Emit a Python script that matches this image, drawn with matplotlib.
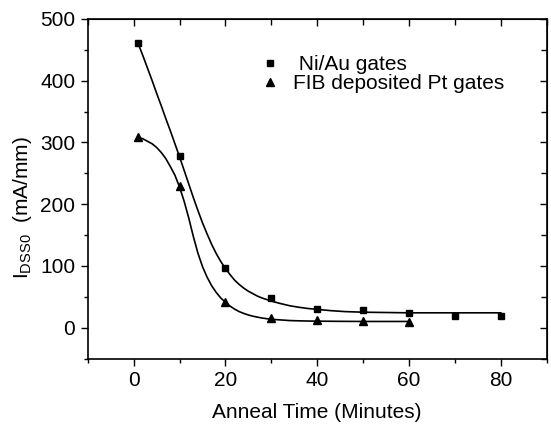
import matplotlib
matplotlib.use("Agg")
import matplotlib.pyplot as plt
from matplotlib.ticker import MultipleLocator

plt.rcParams['font.family'] = ['Liberation Sans', 'DejaVu Sans']
plt.rcParams['mathtext.fontset'] = 'custom'
plt.rcParams['mathtext.rm'] = 'Liberation Sans'

# Measured data
niau_x = [1, 10, 20, 30, 40, 50, 60, 70, 80]
niau_y = [461, 278, 96, 48, 30, 29, 23, 19, 19]
pt_x = [1, 10, 20, 30, 40, 50, 60]
pt_y = [309, 230, 41, 16, 12, 11, 9]

# Fitted curves
niau_fit_x = [1, 2, 3, 4, 5, 6, 7, 8, 9, 10, 11, 12, 13, 14, 15, 16, 17, 18, 19, 20,
              21, 22, 23, 24, 25, 26, 27, 28, 29, 30, 32, 34, 36, 38, 40, 43, 46, 50, 55, 60, 70, 80]
niau_fit_y = [460, 441, 421, 401, 380, 360, 339, 319, 298, 277, 255, 233, 211, 190, 170, 152, 135, 120, 107, 96,
              86, 77, 70, 64, 59, 55, 51, 48, 45.5, 43, 39, 35.5, 33, 31, 29.5, 27.5, 26, 25, 24.5, 24, 24, 24]
pt_fit_x = [1, 2, 3, 4, 5, 6, 7, 8, 9, 10, 11, 12, 13, 14, 15, 16, 17, 18, 19, 20,
            21, 22, 23, 24, 25, 26, 27, 28, 29, 30, 32, 34, 36, 38, 40, 45, 50, 55, 60]
pt_fit_y = [308, 306, 302, 298, 292, 284, 274, 261, 247, 228, 205, 178, 148, 121, 99, 82, 68, 57, 48, 41,
            35, 30, 26, 23, 20.5, 18.5, 17, 15.5, 14.5, 13.5, 12.5, 11.5, 11, 10.7, 10.5, 10.2, 10, 10, 10]

labels = [' Ni/Au gates', 'FIB deposited Pt gates']

fig = plt.figure(figsize=(5.51, 4.25), dpi=100)
ax = fig.add_axes([87.7/551, 1-358.5/425, (546.7-87.7)/551, (358.5-19)/425])

ax.plot(niau_fit_x, niau_fit_y, color='black', lw=1.2)
ax.plot(pt_fit_x, pt_fit_y, color='black', lw=1.2)
h1, = ax.plot(niau_x, niau_y, 's', color='black', ms=5, label=labels[0])
h2, = ax.plot(pt_x, pt_y, '^', color='black', ms=6, label=labels[1])

ax.set_xlim(-10, 90)
ax.set_ylim(-50, 500)
ax.xaxis.set_major_locator(MultipleLocator(20))
ax.xaxis.set_minor_locator(MultipleLocator(10))
ax.yaxis.set_major_locator(MultipleLocator(100))
ax.yaxis.set_minor_locator(MultipleLocator(50))

ax.tick_params(axis='both', which='both', direction='out', labelsize=15, width=1.0,
               top=False, right=False)
ax.tick_params(which='major', length=5, pad=4)
ax.tick_params(which='minor', length=3)

# mirrored inward ticks on top/right
sx = ax.secondary_xaxis('top')
sx.xaxis.set_major_locator(MultipleLocator(20))
sx.xaxis.set_minor_locator(MultipleLocator(10))
sx.tick_params(which='both', direction='in', labeltop=False, width=1.0)
sx.tick_params(which='major', length=5)
sx.tick_params(which='minor', length=4)
sy = ax.secondary_yaxis('right')
sy.yaxis.set_major_locator(MultipleLocator(100))
sy.yaxis.set_minor_locator(MultipleLocator(50))
sy.tick_params(which='both', direction='in', labelright=False, width=1.0)
sy.tick_params(which='major', length=5)
sy.tick_params(which='minor', length=4)

for s in ax.spines.values():
    s.set_linewidth(1.2)

ax.set_xlabel('Anneal Time (Minutes)', fontsize=15, labelpad=9)
ax.set_ylabel(r'$\mathregular{I_{DSS0}}$  (mA/mm)', fontsize=15)
ax.yaxis.set_label_coords(-0.118, 0.445)

ax.legend(handles=[h1, h2], loc='upper left', bbox_to_anchor=(0.374, 0.893),
          frameon=False, fontsize=15, handlelength=1.0, handletextpad=0.6,
          labelspacing=0.0, borderpad=0, borderaxespad=0, numpoints=1)

fig.savefig('out.png', dpi=100)
